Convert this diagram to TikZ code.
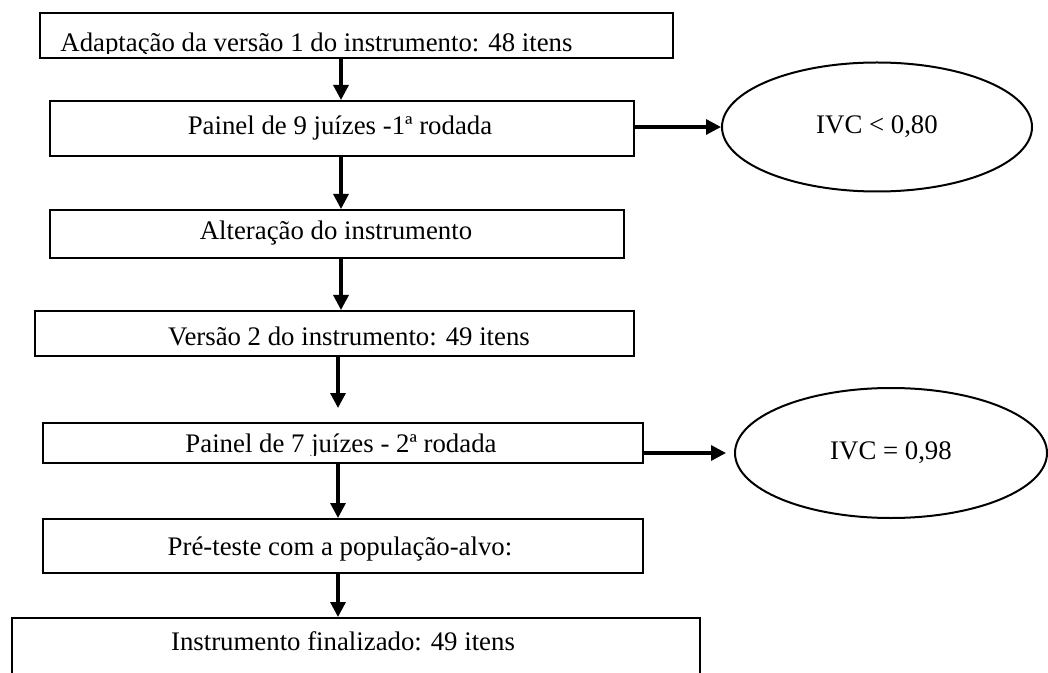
\documentclass[tikz,border=0pt]{standalone}
\usepackage{fontspec}
\setmainfont{Liberation Serif}
\usetikzlibrary{arrows.meta,shapes.geometric}
\begin{document}
\begin{tikzpicture}[x=0.5pt,y=-0.5pt,
  box/.style={draw,line width=1.2pt,rectangle,inner sep=0pt,anchor=north west},
  lbl/.style={inner sep=0pt,anchor=base,font=\fontsize{13.4}{16}\selectfont},
  oval/.style={draw,line width=1pt,ellipse,inner sep=0pt,font=\fontsize{13.4}{16}\selectfont},
  arr/.style={line width=1.6pt,-{Triangle[width=7.5pt,length=7.5pt]}}]
\useasboundingbox (0,0) rectangle (1048,673);
% boxes
\node[box,minimum width=316.5pt,minimum height=22.5pt] (b1) at (39,12) {};
\node[box,minimum width=292pt,minimum height=27.5pt] (b2) at (49,100) {};
\node[box,minimum width=287pt,minimum height=24pt] (b3) at (49,209) {};
\node[box,minimum width=299.5pt,minimum height=22.5pt] (b4) at (34,310) {};
\node[box,minimum width=300pt,minimum height=20pt] (b5) at (42,422) {};
\node[box,minimum width=300pt,minimum height=27pt] (b6) at (42,518) {};
\node[box,minimum width=344pt,minimum height=50pt] (b7) at (11,617) {};
% ellipses
\node[oval,minimum width=155pt,minimum height=64.5pt] (e1) at (877,127) {IVC < 0,80};
\node[oval,minimum width=156pt,minimum height=65pt] (e2) at (891,453) {IVC = 0,98};
% texts
\begin{scope}
\clip (39,12) rectangle (672,54);
\node[lbl,anchor=base west] (t1) at (60,52) {Adaptação da versão 1 do instrumento: 48 itens};
\end{scope}
\node[lbl] (t2) at (340,135) {Painel de 9 juízes -1ª rodada};
\node[lbl] (t3) at (336,240) {Alteração do instrumento};
\node[lbl] (t4) at (349,345) {Versão 2 do instrumento: 49 itens};
\begin{scope}
\clip (42,422) rectangle (642,455);
\node[lbl] (t5) at (341,452) {Painel de 7 juízes - 2ª rodada};
\end{scope}
\node[lbl] (t6) at (340,555) {Pré-teste com a população-alvo:};
\node[lbl] (t7) at (343,650) {Instrumento finalizado: 49 itens};
% connectors
\coordinate (ax) at (341,0);
\coordinate (bx) at (338,0);
\draw[arr] (b1.south -| ax) -- (b2.north -| ax);
\draw[arr] (b2.south -| ax) -- (b3.north -| ax);
\draw[arr] (b3.south -| ax) -- (b4.north -| ax);
\draw[arr,shorten >=7pt] (b4.south -| bx) -- (b5.north -| bx);
\draw[arr] (b5.south -| bx) -- (b6.north -| bx);
\draw[arr] (b6.south -| bx) -- (b7.north -| bx);
\draw[arr] (b2.east |- e1.west) -- (e1.west);
\draw[arr,shorten >=4pt] (b5.east |- e2.west) -- (e2.west);
\end{tikzpicture}
\end{document}
